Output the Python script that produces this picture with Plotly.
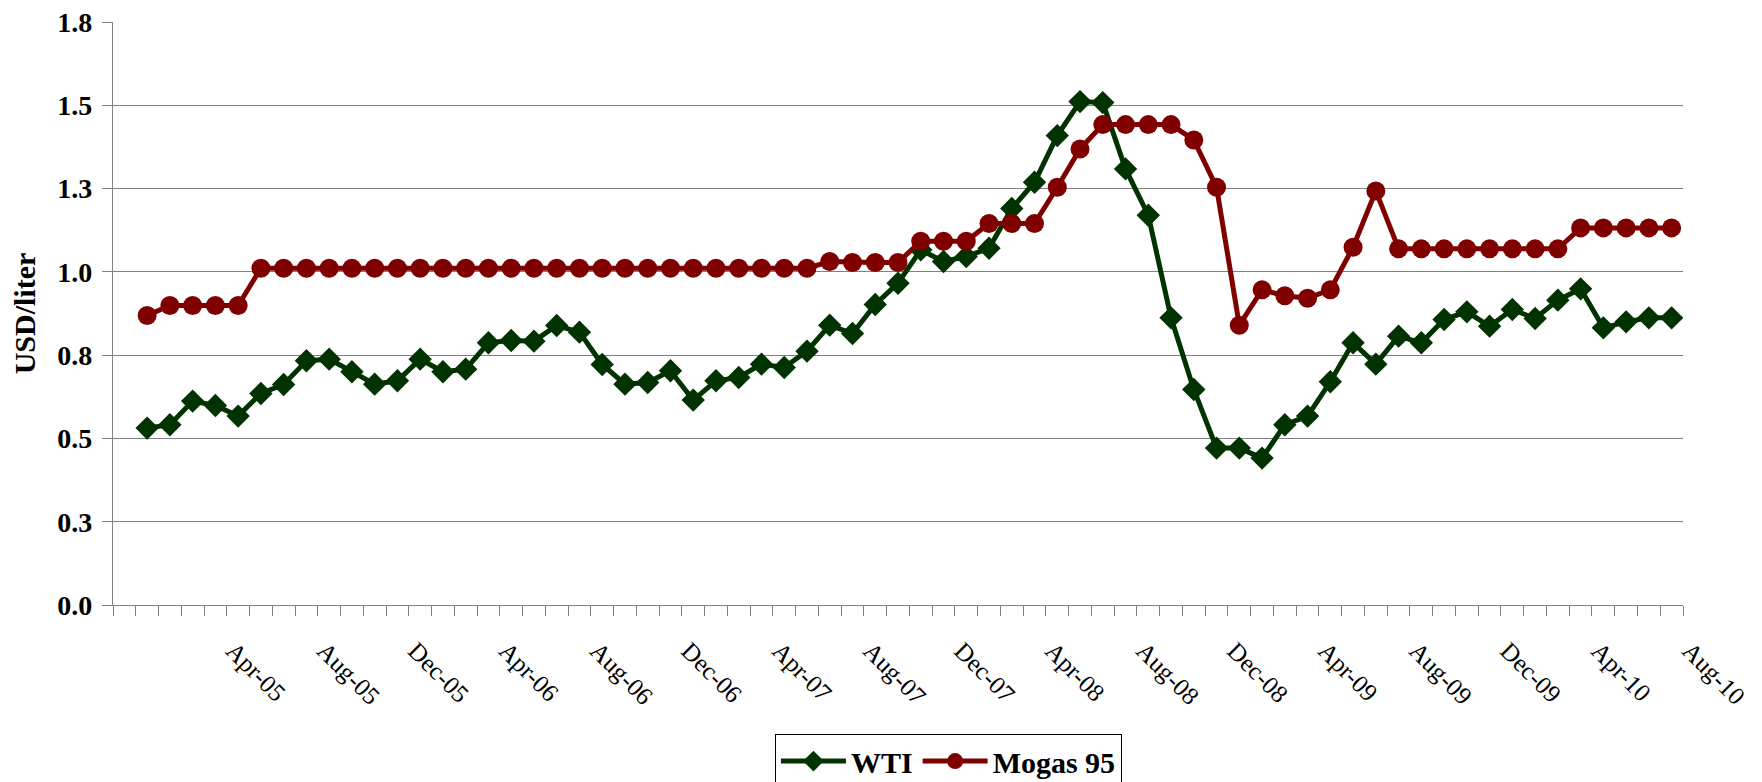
import plotly.graph_objects as go

months = ["Jan-05", "Feb-05", "Mar-05", "Apr-05", "May-05", "Jun-05", "Jul-05", "Aug-05", "Sep-05", "Oct-05", "Nov-05", "Dec-05",
          "Jan-06", "Feb-06", "Mar-06", "Apr-06", "May-06", "Jun-06", "Jul-06", "Aug-06", "Sep-06", "Oct-06", "Nov-06", "Dec-06",
          "Jan-07", "Feb-07", "Mar-07", "Apr-07", "May-07", "Jun-07", "Jul-07", "Aug-07", "Sep-07", "Oct-07", "Nov-07", "Dec-07",
          "Jan-08", "Feb-08", "Mar-08", "Apr-08", "May-08", "Jun-08", "Jul-08", "Aug-08", "Sep-08", "Oct-08", "Nov-08", "Dec-08",
          "Jan-09", "Feb-09", "Mar-09", "Apr-09", "May-09", "Jun-09", "Jul-09", "Aug-09", "Sep-09", "Oct-09", "Nov-09", "Dec-09",
          "Jan-10", "Feb-10", "Mar-10", "Apr-10", "May-10", "Jun-10", "Jul-10", "Aug-10"]

wti = [0.531, 0.541, 0.612, 0.599, 0.567, 0.635, 0.662, 0.733, 0.738, 0.700,
       0.663, 0.673, 0.738, 0.700, 0.708, 0.787, 0.794, 0.792, 0.839, 0.819,
       0.722, 0.663, 0.668, 0.703, 0.615, 0.673, 0.683, 0.723, 0.713, 0.762,
       0.840, 0.815, 0.902, 0.966, 1.066, 1.031, 1.046, 1.071, 1.190, 1.269,
       1.409, 1.511, 1.508, 1.309, 1.170, 0.862, 0.647, 0.471, 0.471, 0.441,
       0.541, 0.567, 0.670, 0.787, 0.723, 0.807, 0.787, 0.857, 0.880, 0.837,
       0.887, 0.860, 0.915, 0.949, 0.832, 0.850, 0.862, 0.862]

mogas = [0.869, 0.899, 0.899, 0.899, 0.899, 1.011, 1.011, 1.011, 1.011, 1.011,
         1.011, 1.011, 1.011, 1.011, 1.011, 1.011, 1.011, 1.011, 1.011, 1.011,
         1.011, 1.011, 1.011, 1.011, 1.011, 1.011, 1.011, 1.011, 1.011, 1.011,
         1.031, 1.028, 1.028, 1.028, 1.092, 1.092, 1.092, 1.145, 1.145, 1.145,
         1.254, 1.369, 1.442, 1.442, 1.442, 1.442, 1.396, 1.254, 0.840, 0.946,
         0.928, 0.921, 0.946, 1.074, 1.243, 1.069, 1.069, 1.069, 1.069, 1.069,
         1.069, 1.069, 1.069, 1.132, 1.132, 1.132, 1.132, 1.132]

label_months = ["Apr-05", "Aug-05", "Dec-05", "Apr-06", "Aug-06", "Dec-06", "Apr-07", "Aug-07", "Dec-07",
                "Apr-08", "Aug-08", "Dec-08", "Apr-09", "Aug-09", "Dec-09", "Apr-10", "Aug-10"]

y_tickvals = [0, 0.25, 0.5, 0.75, 1.0, 1.25, 1.5, 1.75]
y_ticktext = ["0.0", "0.3", "0.5", "0.8", "1.0", "1.3", "1.5", "1.8"]

idx = list(range(len(months)))
label_idx = [months.index(m) for m in label_months]

FONT = "Liberation Serif"
GRID = "#808080"

fig = go.Figure()
fig.add_trace(go.Scatter(
    x=idx, y=wti, name="WTI", mode="lines+markers",
    line=dict(color="#003300", width=5),
    marker=dict(symbol="diamond", size=18, color="#003300"),
))
fig.add_trace(go.Scatter(
    x=idx, y=mogas, name="Mogas 95", mode="lines+markers",
    line=dict(color="#800000", width=5),
    marker=dict(symbol="circle", size=19, color="#800000"),
))

# the page body adds an 8px offset, so the figure is drawn 8px smaller
fig.update_layout(
    width=1754, height=774,
    margin=dict(l=105, r=79, t=14, b=177, autoexpand=False),
    paper_bgcolor="white", plot_bgcolor="white",
    font=dict(family=FONT, color="black", size=24),
    showlegend=True,
    legend=dict(
        orientation="h", x=0.532, xanchor="center", y=-0.221, yanchor="top",
        bordercolor="black", borderwidth=1.2,
        font=dict(family=FONT, size=30, color="black", weight="bold"),
        itemwidth=65, tracegroupgap=0,
    ),
    xaxis=dict(
        range=[-1.5, len(months) - 0.5], automargin=False,
        tickmode="array", tickvals=label_idx, ticktext=label_months,
        tickangle=45, ticks="", showgrid=False, zeroline=False,
        showline=True, linecolor=GRID, linewidth=1.2,
        tickfont=dict(family=FONT, size=25, color="black"),
        ticklabelstandoff=20, ticklabelshift=18, ticklabeloverflow="allow",
        minor=dict(tick0=0.5, dtick=1, ticks="outside", ticklen=10,
                   tickcolor=GRID, tickwidth=1.2, showgrid=False),
    ),
    yaxis=dict(
        range=[0, 1.75], automargin=False,
        tickmode="array", tickvals=y_tickvals, ticktext=y_ticktext,
        ticks="outside", ticklen=10, tickcolor=GRID, tickwidth=1.2,
        showgrid=False, zeroline=False,
        showline=True, linecolor=GRID, linewidth=1.2,
        tickfont=dict(family=FONT, size=28, color="black", weight="bold"),
        ticklabelstandoff=4, ticklabeloverflow="allow",
        title=dict(text="USD/liter", standoff=24,
                   font=dict(family=FONT, size=30, color="black", weight="bold")),
        minor=dict(tickmode="array", tickvals=[0.25, 0.5, 0.75, 1.0, 1.25, 1.5],
                   ticks="", showgrid=True, gridcolor=GRID, gridwidth=1.2),
    ),
)

fig.write_html("out.html")
